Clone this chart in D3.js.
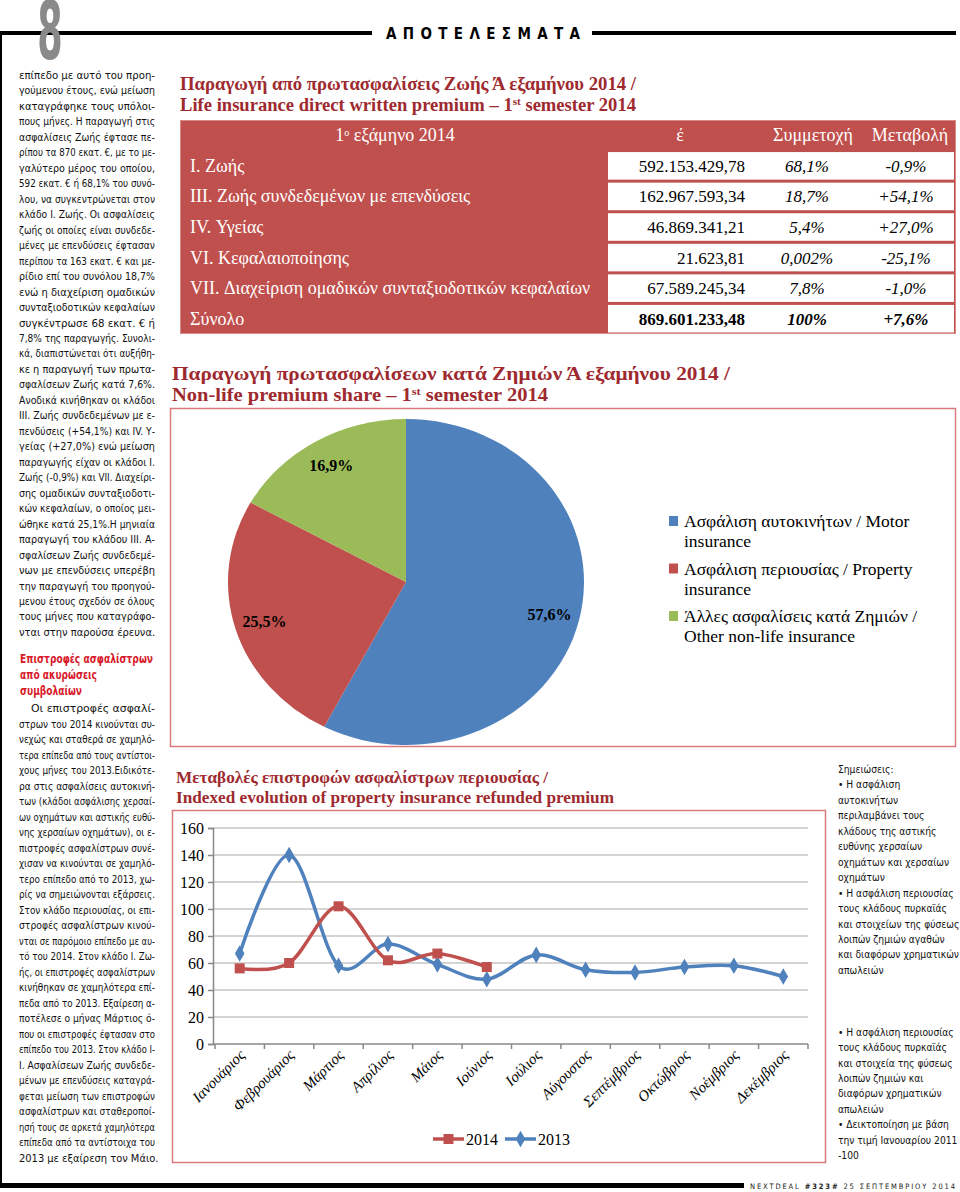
<!DOCTYPE html>
<html><head><meta charset="utf-8">
<script src="https://cdn.jsdelivr.net/npm/d3@7"></script>
<style>
body{margin:0;background:#fff;}
svg{display:block;}
</style></head><body>
<svg id="page" width="960" height="1192"></svg>
<script>
// ---------- DATA ----------
const pageSection = "ΑΠΟΤΕΛΕΣΜΑΤΑ";
const pageNumber = "8";
const footerParts = ["NEXTDEAL ", "#323#", " 25 ΣΕΠΤΕΜΒΡΙΟΥ 2014"];

const para1 = [
"επίπεδο με αυτό του προη-",
"γούμενου έτους, ενώ μείωση",
"καταγράφηκε τους υπόλοι-",
"πους μήνες. Η παραγωγή στις",
"ασφαλίσεις Ζωής έφτασε πε-",
"ρίπου τα 870 εκατ. €, με το με-",
"γαλύτερο μέρος του οποίου,",
"592 εκατ. € ή 68,1% του συνό-",
"λου, να συγκεντρώνεται στον",
"κλάδο Ι. Ζωής. Οι ασφαλίσεις",
"ζωής οι οποίες είναι συνδεδε-",
"μένες με επενδύσεις έφτασαν",
"περίπου τα 163 εκατ. € και με-",
"ρίδιο επί του συνόλου 18,7%",
"ενώ η διαχείριση ομαδικών",
"συνταξιοδοτικών κεφαλαίων",
"συγκέντρωσε 68 εκατ. € ή",
"7,8% της παραγωγής. Συνολι-",
"κά, διαπιστώνεται ότι αυξήθη-",
"κε η παραγωγή των πρωτα-",
"σφαλίσεων Ζωής κατά 7,6%.",
"Ανοδικά κινήθηκαν οι κλάδοι",
"ΙΙΙ. Ζωής συνδεδεμένων με ε-",
"πενδύσεις (+54,1%) και IV. Υ-",
"γείας (+27,0%) ενώ μείωση",
"παραγωγής είχαν οι κλάδοι Ι.",
"Ζωής (-0,9%) και VII. Διαχείρι-",
"σης ομαδικών συνταξιοδοτι-",
"κών κεφαλαίων, ο οποίος μει-",
"ώθηκε κατά 25,1%.Η μηνιαία",
"παραγωγή του κλάδου ΙΙΙ. Α-",
"σφαλίσεων Ζωής συνδεδεμέ-",
"νων με επενδύσεις υπερέβη",
"την παραγωγή του προηγού-",
"μενου έτους σχεδόν σε όλους",
"τους μήνες που καταγράφο-",
"νται στην παρούσα έρευνα."
];
const heading2 = ["Επιστροφές ασφαλίστρων", "από ακυρώσεις", "συμβολαίων"];
const para2 = [
"Οι επιστροφές ασφαλί-",
"στρων του 2014 κινούνται συ-",
"νεχώς και σταθερά σε χαμηλό-",
"τερα επίπεδα από τους αντίστοι-",
"χους μήνες του 2013.Ειδικότε-",
"ρα στις ασφαλίσεις αυτοκινή-",
"των (κλάδοι ασφάλισης χερσαί-",
"ων οχημάτων και αστικής ευθύ-",
"νης χερσαίων οχημάτων), οι ε-",
"πιστροφές ασφαλίστρων συνέ-",
"χισαν να κινούνται σε χαμηλό-",
"τερο επίπεδο από το 2013, χω-",
"ρίς να σημειώνονται εξάρσεις.",
"Στον κλάδο περιουσίας, οι επι-",
"στροφές ασφαλίστρων κινού-",
"νται σε παρόμοιο επίπεδο με αυ-",
"τό του 2014. Στον κλάδο Ι. Ζω-",
"ής, οι επιστροφές ασφαλίστρων",
"κινήθηκαν σε χαμηλότερα επί-",
"πεδα από το 2013. Εξαίρεση α-",
"ποτέλεσε ο μήνας Μάρτιος ό-",
"που οι επιστροφές έφτασαν στο",
"επίπεδο του 2013. Στον κλάδο Ι-",
"Ι. Ασφαλίσεων Ζωής συνδεδε-",
"μένων με επενδύσεις καταγρά-",
"φεται μείωση των επιστροφών",
"ασφαλίστρων και σταθεροποί-",
"ησή τους σε αρκετά χαμηλότερα",
"επίπεδα από τα αντίστοιχα του",
"2013 με εξαίρεση τον Μάιο."
];
const notes = [
"Σημειώσεις:",
"• Η ασφάλιση",
"αυτοκινήτων",
"περιλαμβάνει τους",
"κλάδους της αστικής",
"ευθύνης χερσαίων",
"οχημάτων και χερσαίων",
"οχημάτων",
"• Η ασφάλιση περιουσίας",
"τους κλάδους πυρκαϊάς",
"και στοιχείων της φύσεως",
"λοιπών ζημιών αγαθών",
"και διαφόρων χρηματικών",
"απωλειών",
"", "", "",
"• Η ασφάλιση περιουσίας",
"τους κλάδους πυρκαϊάς",
"και στοιχεία της φύσεως",
"λοιπών ζημιών και",
"διαφόρων χρηματικών",
"απωλειών",
"• Δεικτοποίηση με βάση",
"την τιμή Ιανουαρίου 2011",
"-100"
];

// Table
const tableTitle1 = "Παραγωγή από πρωτασφαλίσεις Ζωής Ά εξαμήνου 2014 /";
const tableTitle2 = ["Life insurance direct written premium – 1", "st", " semester 2014"];
const tableHeader = ["1", "ο", " εξάμηνο 2014"];
const tableColHeads = ["έ", "Συμμετοχή", "Μεταβολή"];
const tableRows = ["I. Ζωής", "III. Ζωής συνδεδεμένων με επενδύσεις", "IV. Υγείας", "VI. Κεφαλαιοποίησης", "VII. Διαχείριση ομαδικών συνταξιοδοτικών κεφαλαίων", "Σύνολο"];
const tableAmounts = ["592.153.429,78", "162.967.593,34", "46.869.341,21", "21.623,81", "67.589.245,34", "869.601.233,48"];
const tableShares = ["68,1%", "18,7%", "5,4%", "0,002%", "7,8%", "100%"];
const tableChanges = ["-0,9%", "+54,1%", "+27,0%", "-25,1%", "-1,0%", "+7,6%"];

// Pie
const pieTitle1 = "Παραγωγή πρωτασφαλίσεων κατά Ζημιών Ά εξαμήνου 2014 /";
const pieTitle2 = ["Non-life premium share – 1", "st", " semester 2014"];
const pieCategories = ["Ασφάλιση αυτοκινήτων / Motor|insurance", "Ασφάλιση περιουσίας / Property|insurance", "Άλλες ασφαλίσεις κατά Ζημιών /|Other non-life insurance"];
const pieValues = [57.6, 25.5, 16.9];
const pieLabels = ["57,6%", "25,5%", "16,9%"];
const pieColors = ["#4f81bd", "#c0504d", "#9bbb59"];

// Line chart
const lineTitle1 = "Μεταβολές επιστροφών ασφαλίστρων περιουσίας /";
const lineTitle2 = "Indexed evolution of property insurance refunded premium";
const months = ["Ιανουάριος", "Φεβρουάριος", "Μάρτιος", "Απρίλιος", "Μάιος", "Ιούνιος", "Ιούλιος", "Αύγουστος", "Σεπτέμβριος", "Οκτώβριος", "Νοέμβριος", "Δεκέμβριος"];
const refunds2014 = [56, 60, 102, 62, 67, 57];
const refunds2013 = [67, 140, 58, 74, 59, 48, 66, 55, 53, 57, 58, 50];
const yTicks = [0, 20, 40, 60, 80, 100, 120, 140, 160];
const seriesNames = ["2014", "2013"];

// ---------- DRAW ----------
const svg = d3.select("#page");
const SANS = "'DejaVu Sans Condensed','Liberation Sans Narrow','Roboto',sans-serif";
const SERIF = "'Liberation Serif','DejaVu Serif',serif";
const TITLE = "#9e2a2f";

// header
svg.append("rect").attr("x", 0).attr("y", 31).attr("width", 372).attr("height", 4).attr("fill", "#000");
svg.append("rect").attr("x", 592).attr("y", 31).attr("width", 364).attr("height", 4).attr("fill", "#000");
svg.append("rect").attr("x", 0).attr("y", 31).attr("width", 2).attr("height", 1157).attr("fill", "#000");
svg.append("text").attr("x", 0).attr("y", 0)
  .attr("transform", "translate(50,59) scale(0.55,1.08)")
  .attr("text-anchor", "middle").attr("font-family", SANS).attr("font-weight", "bold")
  .attr("font-size", 74).attr("fill", "#8a8a8a").text(pageNumber);
svg.append("text").attr("x", 386).attr("y", 39).attr("font-family", SANS).attr("font-weight", "bold")
  .attr("font-size", 15).attr("textLength", 194).attr("lengthAdjust", "spacing").attr("fill", "#000").text(pageSection);

// footer
svg.append("rect").attr("x", 0).attr("y", 1183).attr("width", 744).attr("height", 5).attr("fill", "#000");
const ft = svg.append("text").attr("x", 750).attr("y", 1189).attr("font-family", SANS).attr("font-size", 7.5)
  .attr("fill", "#222").attr("textLength", 205).attr("lengthAdjust", "spacing");
footerParts.forEach((p, i) => ft.append("tspan").attr("font-weight", i === 1 ? "bold" : "normal").text(p));

// left column text
function justified(lines, x0, x1, y0, dy, opts) {
  lines.forEach((l, i) => {
    const last = i === lines.length - 1;
    const indent = (opts.indentFirst && i === 0) ? opts.indentFirst : 0;
    const t = svg.append("text").attr("x", x0 + indent).attr("y", y0 + i * dy)
      .attr("font-family", SANS).attr("font-size", opts.size).attr("fill", opts.fill || "#111")
      .attr("font-weight", opts.weight || "normal").text(l);
    if (!last || opts.justifyLast) {
      t.attr("textLength", x1 - x0 - indent).attr("lengthAdjust", "spacingAndGlyphs");
    }
  });
}
justified(para1, 19, 155, 79, 15.47, {size: 11});
const headingWidths = [133, 77, 62];
heading2.forEach((l, i) => {
  svg.append("text").attr("x", 20).attr("y", 663 + i * 16).attr("font-family", SANS).attr("font-size", 12.5)
    .attr("font-weight", "bold").attr("fill", "#d7192a")
    .attr("textLength", headingWidths[i]).attr("lengthAdjust", "spacingAndGlyphs").text(l);
});
justified(para2, 19, 155, 712, 15.5, {size: 11, indentFirst: 12});

// notes
notes.forEach((l, i) => {
  if (!l) return;
  svg.append("text").attr("x", 838).attr("y", 773 + i * 15.45).attr("font-family", SANS)
    .attr("font-size", 10.2).attr("fill", "#111").text(l);
});

// titles helper
function title(x, y, parts, width, size) {
  const t = svg.append("text").attr("x", x).attr("y", y).attr("font-family", SERIF).attr("font-weight", "bold")
    .attr("font-size", size).attr("fill", TITLE);
  if (typeof parts === "string") t.text(parts);
  else {
    t.append("tspan").text(parts[0]);
    t.append("tspan").attr("baseline-shift", "super").attr("font-size", size * 0.6).text(parts[1]);
    t.append("tspan").text(parts[2]);
  }
  if (width) t.attr("textLength", width).attr("lengthAdjust", "spacingAndGlyphs");
  return t;
}

// ---- Table ----
title(180, 90, tableTitle1, 456, 18);
title(180, 111, tableTitle2, 456, 18);
const rowScale = d3.scaleBand().domain(d3.range(7)).range([120, 334]);
const tbl = svg.append("g");
tbl.append("rect").attr("x", 180).attr("y", 120).attr("width", 776).attr("height", 214).attr("fill", "#c0504d");
tbl.append("rect").attr("x", 180.5).attr("y", 120.5).attr("width", 775).attr("height", 213).attr("fill", "none").attr("stroke", "#d98a88");
const bw = rowScale.bandwidth();
tableRows.forEach((r, i) => {
  const y = rowScale(i + 1);
  const cy = y + bw / 2 + 6;
  const bold = i === tableRows.length - 1;
  tbl.append("rect").attr("x", 608).attr("y", y + 1.5).attr("width", 346).attr("height", bw - 3).attr("fill", "#fff");
  tbl.append("text").attr("x", 190).attr("y", cy).attr("font-family", SERIF).attr("font-size", 18).attr("fill", "#fff").text(r);
  tbl.append("text").attr("x", 745).attr("y", cy).attr("text-anchor", "end").attr("font-family", SERIF)
    .attr("font-size", 17).attr("font-weight", bold ? "bold" : "normal").attr("fill", "#000").text(tableAmounts[i]);
  tbl.append("text").attr("x", 807).attr("y", cy).attr("text-anchor", "middle").attr("font-family", SERIF)
    .attr("font-size", 17).attr("font-style", "italic").attr("font-weight", bold ? "bold" : "normal").attr("fill", "#000").text(tableShares[i]);
  tbl.append("text").attr("x", 906).attr("y", cy).attr("text-anchor", "middle").attr("font-family", SERIF)
    .attr("font-size", 17).attr("font-style", "italic").attr("font-weight", bold ? "bold" : "normal").attr("fill", "#000").text(tableChanges[i]);
});
{
  const hy = rowScale(0) + bw / 2 + 6;
  const ht = tbl.append("text").attr("x", 395).attr("y", hy).attr("text-anchor", "middle").attr("font-family", SERIF)
    .attr("font-size", 18).attr("fill", "#fff");
  ht.append("tspan").text(tableHeader[0]);
  ht.append("tspan").attr("baseline-shift", "super").attr("font-size", 10).text(tableHeader[1]);
  ht.append("tspan").text(tableHeader[2]);
  [680, 813, 910].forEach((x, i) => tbl.append("text").attr("x", x).attr("y", hy).attr("text-anchor", "middle")
    .attr("font-family", SERIF).attr("font-size", 18).attr("fill", "#fff").text(tableColHeads[i]));
}

// ---- Pie ----
title(172, 380, pieTitle1, 558, 18);
title(172, 401, pieTitle2, 376, 18);
svg.append("rect").attr("x", 170.5).attr("y", 408.5).attr("width", 785).attr("height", 338)
  .attr("fill", "none").attr("stroke", "#d9797b").attr("stroke-width", 1.5);
const RY = 163, RX = 178;
const pie = d3.pie().sort(null).value(d => d)(pieValues);
const arc = d3.arc().innerRadius(0).outerRadius(RY);
const labArc = d3.arc().innerRadius(RY * 0.83).outerRadius(RY * 0.83);
const pg = svg.append("g").attr("transform", `translate(406,582) scale(${RX / RY},1)`);
pg.selectAll("path").data(pie).join("path").attr("d", arc).attr("fill", (d, i) => pieColors[i]);
const pl = svg.append("g").attr("transform", "translate(406,582)");
pie.forEach((d, i) => {
  const c = labArc.centroid(d);
  pl.append("text").attr("x", c[0] * RX / RY).attr("y", c[1] + 6).attr("text-anchor", "middle")
    .attr("font-family", SERIF).attr("font-weight", "bold").attr("font-size", 16).attr("fill", "#000").text(pieLabels[i]);
});
pieCategories.forEach((c, i) => {
  const [a, b] = c.split("|");
  const y = 527 + i * 47.5;
  svg.append("rect").attr("x", 669).attr("y", y - 11).attr("width", 9).attr("height", 10).attr("fill", pieColors[i]);
  svg.append("text").attr("x", 684).attr("y", y).attr("font-family", SERIF).attr("font-size", 17.5).attr("fill", "#000").text(a);
  svg.append("text").attr("x", 684).attr("y", y + 20).attr("font-family", SERIF).attr("font-size", 17.5).attr("fill", "#000").text(b);
});

// ---- Line chart ----
title(176, 783, lineTitle1, 372, 17);
title(176, 803, lineTitle2, 438, 17);
svg.append("rect").attr("x", 172.5).attr("y", 810.5).attr("width", 653).attr("height", 352)
  .attr("fill", "none").attr("stroke", "#d9797b").attr("stroke-width", 1.5);
const x = d3.scaleBand().domain(months).range([215, 808]);
const xc = m => x(m) + x.bandwidth() / 2;
const y = d3.scaleLinear().domain([0, 160]).range([1044, 828]);
const lg = svg.append("g");
// grid
lg.selectAll("line.grid").data(yTicks.filter(v => v > 0)).join("line").attr("class", "grid")
  .attr("x1", 213).attr("x2", 808).attr("y1", d => y(d)).attr("y2", d => y(d))
  .attr("stroke", "#d4d4d4").attr("stroke-width", 2);
// y axis
const yAxis = lg.append("g").attr("transform", "translate(213,0)")
  .call(d3.axisLeft(y).tickValues(yTicks).tickSize(5).tickPadding(4).tickFormat(d3.format("d")));
yAxis.select(".domain").attr("stroke", "#888").attr("stroke-width", 1.5);
yAxis.selectAll(".tick line").attr("stroke", "#888").attr("stroke-width", 1.5);
yAxis.selectAll("text").attr("font-family", SERIF).attr("font-size", 16).attr("fill", "#000");
// x axis
const xAxisG = lg.append("g").attr("transform", "translate(0,1044)");
xAxisG.append("line").attr("x1", 213).attr("x2", 808).attr("stroke", "#888").attr("stroke-width", 1.5);
xAxisG.selectAll("line.tk").data(months.concat(["__end"])).join("line").attr("class", "tk")
  .attr("x1", d => d === "__end" ? 808 : x(d)).attr("x2", d => d === "__end" ? 808 : x(d))
  .attr("y1", 0).attr("y2", 5).attr("stroke", "#888").attr("stroke-width", 1.5);
xAxisG.selectAll("text").data(months).join("text")
  .attr("transform", d => `translate(${xc(d) + 6},12) rotate(-45)`)
  .attr("text-anchor", "end").attr("font-family", SERIF).attr("font-style", "italic")
  .attr("font-size", 15).attr("fill", "#000").text(d => d);
// lines
const line = d3.line().x(d => xc(d.m)).y(d => y(d.v)).curve(d3.curveCardinal.tension(0));
const s2013 = refunds2013.map((v, i) => ({m: months[i], v}));
const s2014 = refunds2014.map((v, i) => ({m: months[i], v}));
lg.append("path").attr("d", line(s2013)).attr("fill", "none").attr("stroke", "#4f81bd").attr("stroke-width", 3.5);
lg.append("path").attr("d", line(s2014)).attr("fill", "none").attr("stroke", "#c0504d").attr("stroke-width", 3.5);
const diamond = d3.symbol().type(d3.symbolDiamond).size(80);
lg.selectAll("path.d13").data(s2013).join("path").attr("class", "d13").attr("d", diamond)
  .attr("transform", d => `translate(${xc(d.m)},${y(d.v)})`).attr("fill", "#4f81bd");
lg.selectAll("rect.s14").data(s2014).join("rect").attr("class", "s14")
  .attr("x", d => xc(d.m) - 5).attr("y", d => y(d.v) - 5).attr("width", 10).attr("height", 10).attr("fill", "#c0504d");
// legend
const leg = [{name: seriesNames[0], c: "#c0504d", x: 433}, {name: seriesNames[1], c: "#4f81bd", x: 505}];
leg.forEach((l, i) => {
  lg.append("line").attr("x1", l.x).attr("x2", l.x + 31).attr("y1", 1139).attr("y2", 1139).attr("stroke", l.c).attr("stroke-width", 3.5);
  if (i === 0) lg.append("rect").attr("x", l.x + 10.5).attr("y", 1134).attr("width", 10).attr("height", 10).attr("fill", l.c);
  else lg.append("path").attr("d", diamond).attr("transform", `translate(${l.x + 15.5},1139)`).attr("fill", l.c);
  lg.append("text").attr("x", l.x + 33).attr("y", 1145).attr("font-family", SERIF).attr("font-size", 16).attr("fill", "#000").text(l.name);
});
</script>
</body></html>
